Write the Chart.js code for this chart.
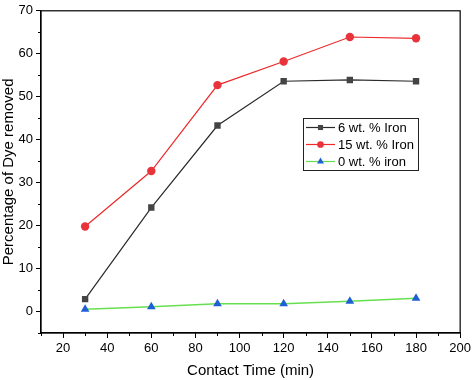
<!DOCTYPE html>
<html>
  <head>
    <script src="https://cdn.jsdelivr.net/npm/chart.js"></script>
  </head>
  <style>
    body { margin: 0; background: white; }
    #wrap { width: 474px; height: 380px; }
  </style>
  <body>
    <div id="wrap"><canvas id="dyeChart" width="474" height="380"></canvas></div>
    <script>
      const TIMES = [30, 60, 90, 120, 150, 180];
      const IRON_6 = [2.9, 24.2, 43.3, 53.6, 53.9, 53.6];
      const IRON_15 = [19.8, 32.7, 52.7, 58.2, 63.9, 63.6];
      const IRON_0 = [0.5, 1.1, 1.8, 1.8, 2.4, 3.1];
      const SERIES_NAMES = ['6 wt. % Iron', '15 wt. % Iron', '0 wt. % iron'];
      const X_TICKS = [20, 40, 60, 80, 100, 120, 140, 160, 180, 200];
      const Y_TICKS = [0, 10, 20, 30, 40, 50, 60, 70];

      const FONT = 'Liberation Sans, Arial, sans-serif';

      const toPoints = (ys) => TIMES.map((t, i) => ({ x: t, y: ys[i] }));

      // frame, minor ticks and the boxed legend
      const extras = {
        id: 'extras',
        afterDraw(chart) {
          const ctx = chart.ctx;
          const a = chart.chartArea;
          const xs = chart.scales.x;
          const ys = chart.scales.y;
          ctx.save();
          ctx.strokeStyle = '#000';
          ctx.lineWidth = 1.2;
          ctx.strokeRect(a.left, a.top, a.right - a.left, a.bottom - a.top);

          ctx.lineWidth = 1;
          ctx.beginPath();
          for (let v = 10; v <= 190; v += 20) {
            const px = Math.round(xs.getPixelForValue(v)) + 0.5;
            ctx.moveTo(px, a.bottom);
            ctx.lineTo(px, a.bottom + 3);
          }
          for (let v = -5; v <= 65; v += 10) {
            const py = Math.round(ys.getPixelForValue(v)) + 0.5;
            ctx.moveTo(a.left, py);
            ctx.lineTo(a.left - 3, py);
          }
          ctx.stroke();

          // legend box
          const bx = 303, by = 118, bw = 115, bh = 52;
          ctx.strokeStyle = '#222';
          ctx.lineWidth = 1;
          ctx.strokeRect(bx + 0.5, by + 0.5, bw, bh);
          ctx.font = '13px ' + FONT;
          ctx.textBaseline = 'middle';
          ctx.textAlign = 'left';
          chart.data.datasets.forEach((ds, i) => {
            const cy = by + 9.5 + i * 17;
            ctx.strokeStyle = ds.borderColor;
            ctx.lineWidth = 1.2;
            ctx.beginPath();
            ctx.moveTo(bx + 3, cy);
            ctx.lineTo(bx + 32, cy);
            ctx.stroke();
            ctx.fillStyle = ds.pointBackgroundColor;
            ctx.strokeStyle = ds.pointBackgroundColor;
            Chart.helpers.drawPoint(ctx, {
              pointStyle: ds.pointStyle,
              radius: ds.pointRadius * 0.8,
              rotation: 0,
              borderWidth: 0
            }, bx + 17.5, cy);
            ctx.fillStyle = '#000';
            ctx.fillText(ds.label, bx + 35, cy + 1);
          });
          ctx.restore();
        }
      };

      const config = {
        type: 'line',
        data: {
          datasets: [
            {
              label: SERIES_NAMES[0],
              data: toPoints(IRON_6),
              borderColor: '#2a2a2a',
              pointBackgroundColor: '#444444',
              pointBorderColor: '#444444',
              pointStyle: 'rect',
              pointRadius: 4.5,
              pointBorderWidth: 0,
              borderWidth: 1.2
            },
            {
              label: SERIES_NAMES[1],
              data: toPoints(IRON_15),
              borderColor: '#ee2a2a',
              pointBackgroundColor: '#e8333b',
              pointBorderColor: '#e8333b',
              pointStyle: 'circle',
              pointRadius: 4.2,
              pointBorderWidth: 0,
              borderWidth: 1.2
            },
            {
              label: SERIES_NAMES[2],
              data: toPoints(IRON_0),
              borderColor: '#66e050',
              pointBackgroundColor: '#1f5fd6',
              pointBorderColor: '#1f5fd6',
              pointStyle: 'triangle',
              pointRadius: 5,
              pointBorderWidth: 0,
              borderWidth: 1.5
            }
          ]
        },
        options: {
          responsive: false,
          animation: false,
          layout: { padding: { top: 7, right: 10, left: 0, bottom: 0 } },
          plugins: {
            legend: { display: false },
            tooltip: { enabled: false }
          },
          scales: {
            x: {
              type: 'linear',
              min: 10,
              max: 200,
              afterBuildTicks: (s) => { s.ticks = X_TICKS.map(v => ({ value: v })); },
              afterFit: (s) => { s.height = 47; },
              grid: { drawOnChartArea: false, tickLength: 5, color: '#000' },
              border: { color: '#000', width: 1.2 },
              ticks: { color: '#000', font: { family: FONT, size: 13 }, padding: 3, maxRotation: 0 },
              title: { display: true, text: 'Contact Time (min)', color: '#000', font: { family: FONT, size: 15 }, padding: { top: 8, bottom: 0 } }
            },
            y: {
              type: 'linear',
              min: -5,
              max: 70,
              afterBuildTicks: (s) => { s.ticks = Y_TICKS.map(v => ({ value: v })); },
              afterFit: (s) => { s.width = 41; },
              grid: { drawOnChartArea: false, tickLength: 5, color: '#000' },
              border: { color: '#000', width: 1.2 },
              ticks: { color: '#000', font: { family: FONT, size: 13 }, padding: 3 },
              title: { display: true, text: 'Percentage of Dye removed', color: '#000', font: { family: FONT, size: 15 }, padding: { bottom: 0, top: 0 } }
            }
          }
        },
        plugins: [extras]
      };

      new Chart(document.getElementById('dyeChart'), config);
    </script>
  </body>
</html>
